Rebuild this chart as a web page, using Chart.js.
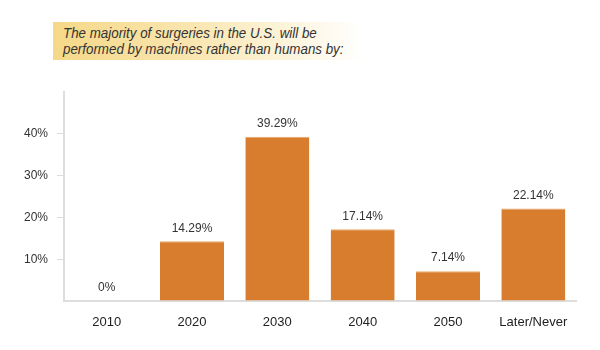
<!DOCTYPE html>
<html>
<head>
<meta charset="utf-8">
<script src="https://cdn.jsdelivr.net/npm/chart.js@4/dist/chart.umd.min.js"></script>
<style>
  body { margin: 0; background: #fff; }
  #wrap { position: relative; width: 600px; height: 350px; }
  #fundo {
    position: absolute; left: 53px; top: 22px; width: 310px; height: 38px;
    background: linear-gradient(to right, #f5d888 0%, #f9e6b0 45%, #ffffff 100%);
  }
  #titre {
    position: absolute; left: 63px; top: 25px; white-space: nowrap;
    transform: scaleX(0.89); transform-origin: left top;
    font-family: "Liberation Sans", sans-serif;
    font-style: italic; font-size: 15px; line-height: 16px; color: #333;
  }
</style>
</head>
<body>
<div id="wrap">
  <canvas id="grafico" width="600" height="350"></canvas>
  <div id="fundo"></div>
  <div id="titre">The majority of surgeries in the U.S. will be<br>performed by machines rather than humans by:</div>
</div>
<script>
const categorias = ['2010', '2020', '2030', '2040', '2050', 'Later/Never'];
const valores = [0, 14.29, 39.29, 17.14, 7.14, 22.14];
const ticksY = [10, 20, 30, 40];

const fonte = '"Liberation Sans", sans-serif';

// Rótulos acima das barras
const rotulos = {
    id: 'rotulos',
    afterDatasetsDraw(chart) {
        const ctx = chart.ctx;
        const meta = chart.getDatasetMeta(0);
        ctx.save();
        ctx.font = '12px ' + fonte;
        ctx.fillStyle = '#333';
        ctx.textAlign = 'center';
        ctx.textBaseline = 'bottom';
        meta.data.forEach(function (bar, i) {
            ctx.fillText(valores[i] + '%', bar.x, bar.y - 7);
        });
        ctx.restore();
    }
};

new Chart(document.getElementById('grafico'), {
    type: 'bar',
    data: {
        labels: categorias,
        datasets: [{
            data: valores,
            backgroundColor: '#d87d2e',
            borderColor: '#e9a866',
            borderWidth: { top: 1, left: 0, right: 0, bottom: 0 },
            barPercentage: 0.75,
            categoryPercentage: 1
        }]
    },
    options: {
        responsive: false,
        animation: false,
        layout: { padding: { top: 92, right: 24, left: 0, bottom: 0 } },
        plugins: { legend: { display: false }, tooltip: { enabled: false } },
        scales: {
            x: {
                grid: { display: false },
                border: { display: true, color: '#dddddd', width: 2 },
                ticks: { color: '#222', font: { family: fonte, size: 13 }, padding: 6 },
                afterFit(scale) { scale.height = 49; }
            },
            y: {
                min: 0,
                max: 50,
                afterBuildTicks(scale) {
                    scale.ticks = [0].concat(ticksY, [50]).map(v => ({ value: v }));
                },
                grid: {
                    drawOnChartArea: false,
                    tickLength: 7,
                    tickColor: ctx => (ctx.tick && ticksY.includes(ctx.tick.value)) ? '#dddddd' : 'rgba(0,0,0,0)'
                },
                border: { display: true, color: '#dddddd', width: 2 },
                ticks: {
                    color: '#333',
                    font: { family: fonte, size: 12 },
                    padding: 9,
                    callback: v => ticksY.includes(v) ? v + '%' : ''
                },
                afterFit(scale) { scale.width = 64; }
            }
        }
    },
    plugins: [rotulos]
});
</script>
</body>
</html>
